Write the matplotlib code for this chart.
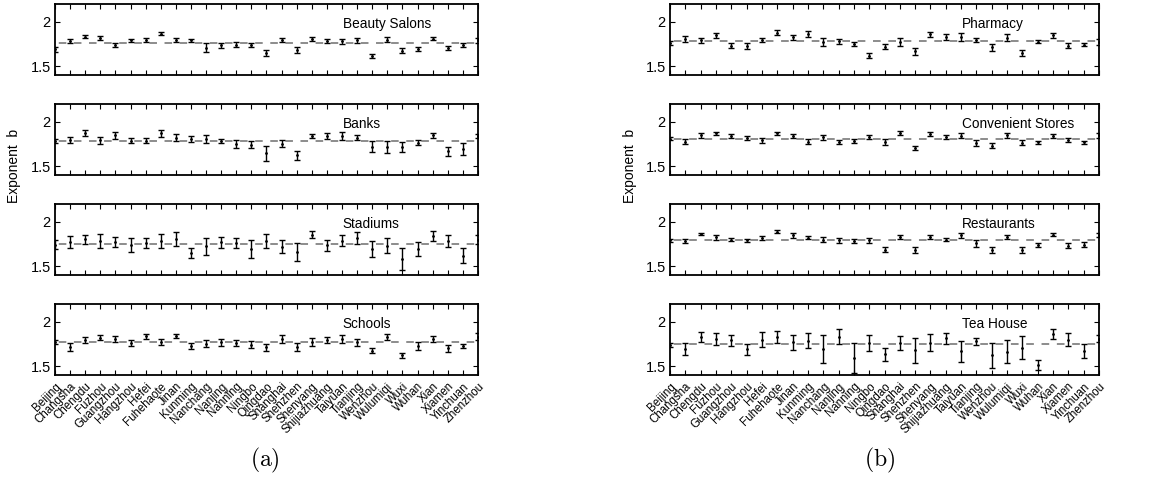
import matplotlib
matplotlib.use("Agg")
import matplotlib.pyplot as plt
import numpy as np

plt.rcParams['font.family'] = ['Liberation Sans', 'DejaVu Sans']
plt.rcParams['mathtext.fontset'] = 'cm'
plt.rcParams['lines.scale_dashes'] = False

cities = ["Beijing", "Changsha", "Chengdu", "Fuzhou", "Guangzhou", "Hangzhou", "Hefei",
          "Fuhehaote", "Jinan", "Kunming", "Nanchang", "Nanjing", "Nanning", "Ningbo",
          "Qingdao", "Shanghai", "Shenzhen", "Shenyang", "Shijiazhuang", "Taiyuan",
          "Tianjing", "Wenzhou", "Wulumiqi", "Wuxi", "Wuhan", "Xian", "Xiamen",
          "Yinchuan", "Zhenzhou"]

titles_a = ["Beauty Salons", "Banks", "Stadiums", "Schools"]
titles_b = ["Pharmacy", "Convenient Stores", "Restaurants", "Tea House"]

beauty_val = [1.69, 1.785, 1.833, 1.815, 1.735, 1.789, 1.794, 1.867, 1.793, 1.791, 1.707, 1.735,
              1.743, 1.735, 1.646, 1.793, 1.680, 1.804, 1.781, 1.780, 1.794, 1.613, 1.800, 1.676,
              1.689, 1.811, 1.707, 1.733, 1.789]
beauty_err = [0.03, 0.026, 0.019, 0.022, 0.024, 0.022, 0.024, 0.019, 0.022, 0.020, 0.052, 0.028,
              0.024, 0.024, 0.035, 0.022, 0.031, 0.019, 0.022, 0.028, 0.028, 0.024, 0.030, 0.024,
              0.022, 0.019, 0.022, 0.022, 0.026]

banks_val = [1.78, 1.794, 1.870, 1.789, 1.848, 1.787, 1.785, 1.870, 1.822, 1.807, 1.807, 1.780,
             1.748, 1.743, 1.643, 1.754, 1.624, 1.844, 1.841, 1.841, 1.822, 1.720, 1.713, 1.715,
             1.765, 1.846, 1.669, 1.696, 1.840]
banks_err = [0.02, 0.035, 0.033, 0.040, 0.037, 0.031, 0.030, 0.037, 0.037, 0.037, 0.044, 0.024,
             0.048, 0.043, 0.080, 0.043, 0.050, 0.022, 0.030, 0.048, 0.026, 0.061, 0.065, 0.059,
             0.031, 0.024, 0.050, 0.070, 0.022]

stadium_val = [1.74, 1.767, 1.802, 1.785, 1.772, 1.741, 1.757, 1.783, 1.804, 1.646, 1.724, 1.770,
               1.756, 1.693, 1.787, 1.719, 1.659, 1.856, 1.735, 1.787, 1.815, 1.694, 1.731, 1.580,
               1.693, 1.841, 1.787, 1.617, 1.798]
stadium_err = [0.05, 0.067, 0.054, 0.081, 0.061, 0.078, 0.057, 0.083, 0.081, 0.057, 0.098, 0.063,
               0.056, 0.100, 0.080, 0.074, 0.096, 0.044, 0.065, 0.065, 0.067, 0.087, 0.083, 0.120,
               0.074, 0.056, 0.069, 0.083, 0.050]

school_val = [1.77, 1.715, 1.794, 1.822, 1.809, 1.761, 1.839, 1.772, 1.844, 1.724, 1.754, 1.767,
              1.761, 1.741, 1.711, 1.804, 1.717, 1.774, 1.796, 1.807, 1.767, 1.674, 1.831, 1.620,
              1.730, 1.804, 1.700, 1.724, 1.830]
school_err = [0.02, 0.041, 0.035, 0.026, 0.035, 0.039, 0.028, 0.031, 0.022, 0.031, 0.043, 0.037,
              0.035, 0.041, 0.037, 0.044, 0.043, 0.044, 0.037, 0.048, 0.044, 0.026, 0.035, 0.028,
              0.044, 0.037, 0.037, 0.024, 0.039]

pharm_val = [1.76, 1.807, 1.791, 1.848, 1.730, 1.728, 1.791, 1.876, 1.824, 1.863, 1.776, 1.780,
             1.748, 1.619, 1.720, 1.774, 1.667, 1.861, 1.828, 1.830, 1.791, 1.711, 1.822, 1.652,
             1.776, 1.850, 1.730, 1.743, 1.770]
pharm_err = [0.02, 0.033, 0.031, 0.030, 0.030, 0.031, 0.024, 0.028, 0.028, 0.030, 0.046, 0.031,
             0.026, 0.030, 0.028, 0.044, 0.037, 0.028, 0.031, 0.044, 0.024, 0.037, 0.037, 0.033,
             0.020, 0.028, 0.026, 0.020, 0.033]

conv_val = [1.81, 1.776, 1.850, 1.869, 1.844, 1.815, 1.794, 1.869, 1.841, 1.776, 1.826, 1.772,
            1.781, 1.833, 1.770, 1.874, 1.706, 1.865, 1.828, 1.843, 1.763, 1.731, 1.850, 1.765,
            1.767, 1.844, 1.794, 1.767, 1.846]
conv_err = [0.02, 0.028, 0.028, 0.017, 0.022, 0.022, 0.028, 0.020, 0.026, 0.028, 0.030, 0.024,
            0.022, 0.022, 0.033, 0.026, 0.024, 0.024, 0.024, 0.028, 0.033, 0.028, 0.028, 0.028,
            0.019, 0.022, 0.020, 0.019, 0.024]

rest_val = [1.79, 1.785, 1.863, 1.824, 1.800, 1.789, 1.815, 1.887, 1.846, 1.822, 1.800, 1.794,
            1.783, 1.789, 1.687, 1.828, 1.683, 1.833, 1.800, 1.850, 1.757, 1.680, 1.828, 1.678,
            1.735, 1.856, 1.730, 1.739, 1.850]
rest_err = [0.02, 0.026, 0.015, 0.024, 0.022, 0.022, 0.019, 0.017, 0.024, 0.019, 0.033, 0.028,
            0.028, 0.030, 0.031, 0.024, 0.035, 0.022, 0.022, 0.028, 0.039, 0.031, 0.024, 0.033,
            0.024, 0.022, 0.026, 0.028, 0.020]

tea_val = [1.74, 1.694, 1.831, 1.804, 1.793, 1.689, 1.798, 1.828, 1.770, 1.787, 1.693, 1.831,
           1.591, 1.761, 1.631, 1.763, 1.678, 1.763, 1.815, 1.667, 1.781, 1.620, 1.663, 1.706,
           1.513, 1.863, 1.800, 1.669, 1.810]
tea_err = [0.02, 0.065, 0.057, 0.067, 0.063, 0.059, 0.087, 0.069, 0.085, 0.083, 0.156, 0.083,
           0.165, 0.087, 0.069, 0.078, 0.144, 0.096, 0.061, 0.115, 0.041, 0.139, 0.130, 0.131,
           0.061, 0.052, 0.070, 0.080, 0.040]

mean_a = [1.755, 1.778, 1.748, 1.767]
mean_b = [1.778, 1.811, 1.793, 1.744]

vals_a = [beauty_val, banks_val, stadium_val, school_val]
errs_a = [beauty_err, banks_err, stadium_err, school_err]
vals_b = [pharm_val, conv_val, rest_val, tea_val]
errs_b = [pharm_err, conv_err, rest_err, tea_err]

W, H = 1153, 494
fig = plt.figure(figsize=(W / 100, H / 100), dpi=100)

x = np.arange(1, len(cities) + 1)

def make_col(left_px, right_px, titles, vals, errs, means):
    for r in range(4):
        top = 4 + 100 * r
        ax = fig.add_axes([left_px / W, 1 - (top + 71) / H, (right_px - left_px) / W, 71 / H])
        ax.errorbar(x, vals[r], yerr=errs[r], fmt='.', color='black', ms=2.0,
                    elinewidth=1.0, capsize=2.4, capthick=1.0, zorder=3, clip_on=True)
        spacing_pt = (right_px - left_px) / (len(cities) - 1) * 0.72
        ax.axhline(means[r], color='0.55', lw=1.4,
                   linestyle=(0.75 * spacing_pt, (0.5 * spacing_pt, 0.5 * spacing_pt)),
                   zorder=2)
        ax.set_xlim(1, len(cities))
        ax.set_ylim(1.4, 2.2)
        ax.set_yticks([1.5, 2.0])
        ax.set_yticklabels(['1.5', '2'])
        ax.set_xticks(x)
        ax.tick_params(direction='in', top=True, right=True, length=3.5, width=0.8)
        ax.tick_params(axis='y', labelsize=10.5, pad=3)
        ax.tick_params(axis='x', labelsize=8.3, pad=4)
        if r == 3:
            ax.set_xticklabels(cities, rotation=45, ha='right', rotation_mode='anchor')
        else:
            ax.set_xticklabels([])
        for s in ax.spines.values():
            s.set_linewidth(1.3)
        ax.text(20.05, 1.97, titles[r], fontsize=9.8, va='center', ha='left')

make_col(55, 478, titles_a, vals_a, errs_a, mean_a)
make_col(670, 1099, titles_b, vals_b, errs_b, mean_b)

fig.text(14 / W, 1 - 166 / H, 'Exponent  b', rotation=90, va='center', ha='center', fontsize=10)
fig.text(630 / W, 1 - 166 / H, 'Exponent  b', rotation=90, va='center', ha='center', fontsize=10)

fig.text(265 / W, 1 - 460 / H, r'$\mathrm{(a)}$', ha='center', va='center', fontsize=17)
fig.text(880 / W, 1 - 460 / H, r'$\mathrm{(b)}$', ha='center', va='center', fontsize=17)

fig.savefig('out.png', dpi=100)
